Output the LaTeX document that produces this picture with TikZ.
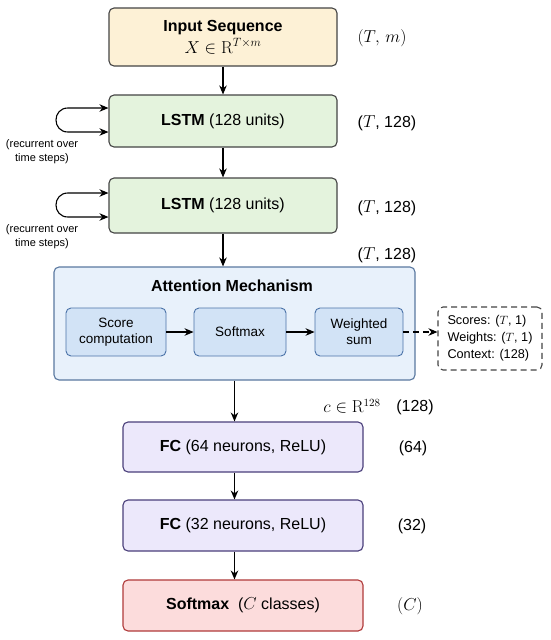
\documentclass[tikz,border=0pt]{standalone}
\usepackage[no-math]{fontspec}
\setmainfont{Liberation Sans}
\usetikzlibrary{arrows.meta}
\definecolor{inFill}{HTML}{FDF1D6}
\definecolor{lstmFill}{HTML}{E4F3DD}
\definecolor{attFill}{HTML}{E8F1FB}
\definecolor{attLine}{HTML}{5A78A0}
\definecolor{subFill}{HTML}{D2E3F6}
\definecolor{subLine}{HTML}{4A72A8}
\definecolor{fcFill}{HTML}{ECE8FB}
\definecolor{fcLine}{HTML}{4A3F7A}
\definecolor{smFill}{HTML}{FCDCDC}
\definecolor{smLine}{HTML}{B03A3A}
\definecolor{boxLine}{HTML}{444444}
\tikzset{
  box/.style={draw=boxLine, line width=1.1pt, rounded corners=5pt, align=center, inner sep=0pt, font=\fontsize{16}{19}\selectfont},
  subbox/.style={draw=subLine, fill=subFill, line width=0.9pt, rounded corners=5pt, align=center, inner sep=0pt, font=\fontsize{13.5}{16}\selectfont},
  arr/.style={-{Stealth[length=9pt,width=7.5pt]}, line width=1.1pt},
  lab/.style={font=\fontsize{16}{19}\selectfont},
  loop/.style={line width=1.1pt, {Stealth[length=9pt,width=7.5pt]}-{Stealth[length=9pt,width=7.5pt]}},
  dsh/.style={dash pattern=on 6pt off 4pt},
}
\begin{document}
\begin{tikzpicture}[x=1pt,y=-1pt]
\useasboundingbox (0,0) rectangle (550,640);
\fill[white] (0,0) rectangle (550,640);
% main boxes
\node[box, fill=inFill, minimum width=228pt, minimum height=58pt] (inp) at (223,37)
  {\textbf{Input Sequence}\\[3pt] \fontsize{17}{19}\selectfont$X \in \mathrm{R}^{T\times m}$};
\node[box, fill=lstmFill, minimum width=228pt, minimum height=52pt] (l1) at (223,121)
  {\textbf{LSTM} (128 units)};
\node[box, fill=lstmFill, minimum width=228pt, minimum height=55pt] (l2) at (223,205.5)
  {\textbf{LSTM} (128 units)};
\node[box, draw=attLine, fill=attFill, minimum width=361pt, minimum height=113pt] (att) at (234.5,323.5) {};
\node[font=\fontsize{16}{19}\selectfont\bfseries] (atttitle) at (232,286) {Attention Mechanism};
\node[subbox, minimum width=100pt, minimum height=48pt] (score) at (116,332) {Score\\computation};
\node[subbox, minimum width=92pt, minimum height=48pt] (sfx) at (240,332) {Softmax};
\node[subbox, minimum width=88pt, minimum height=48pt] (wsum) at (359,332) {Weighted\\sum};
\node[draw=boxLine, dsh, line width=1.1pt, rounded corners=5pt, minimum width=104pt, minimum height=63pt, align=left, inner sep=0pt, font=\fontsize{12.7}{17}\selectfont] (info) at (490,338.5)
  {Scores: ($T$, 1)\\Weights: ($T$, 1)\\Context: (128)};
\node[box, draw=fcLine, fill=fcFill, minimum width=240pt, minimum height=50pt] (fc1) at (243,447)
  {\textbf{FC} (64 neurons, ReLU)};
\node[box, draw=fcLine, fill=fcFill, minimum width=240pt, minimum height=51pt] (fc2) at (243,525.5)
  {\textbf{FC} (32 neurons, ReLU)};
\node[box, draw=smLine, fill=smFill, minimum width=240pt, minimum height=51pt] (out) at (243,605.5)
  {\textbf{Softmax}\ \ ($C$ classes)};
% right labels
\node[lab] (d0) at (382,38) {$(T,\, m)$};
\node[lab] (d1) at (387,123) {($T$, 128)};
\node[lab] (d2) at (387,208) {($T$, 128)};
\node[lab] (d3) at (387,255) {($T$, 128)};
\node[lab] (cvec) at (352,406) {$c \in \mathrm{R}^{128}$};
\node[lab] (d4) at (415,407) {(128)};
\node[lab] (d5) at (413,448) {(64)};
\node[lab] (d6) at (412,526) {(32)};
\node[lab] (d7) at (410,606) {$(C)$};
% recurrent labels
\node[align=center, font=\fontsize{11}{14}\selectfont] (rec1) at (42,152) {(recurrent over\\time steps)};
\node[align=center, font=\fontsize{11}{14}\selectfont] (rec2) at (42,237) {(recurrent over\\time steps)};
% arrows
\draw[arr] (inp) -- (l1);
\draw[arr] (l1) -- (l2);
\draw[arr] (l2.south) -- (l2.south |- att.north);
\draw[arr] (att.south) -- (att.south |- fc1.north);
\draw[arr] (att.south |- fc1.south) -- (att.south |- fc2.north);
\draw[arr] (att.south |- fc2.south) -- (att.south |- out.north);
\draw[arr] (score) -- (sfx);
\draw[arr] (sfx) -- (wsum);
\draw[arr, dsh] (wsum.east) -- (wsum.east -| info.west);
% loops
\draw[loop] (l1.west |- 0,108) -- (68,108) .. controls (52,108) and (52,132) .. (68,132) -- (l1.west |- 0,132);
\draw[loop] (l2.west |- 0,193) -- (68,193) .. controls (52,193) and (52,217) .. (68,217) -- (l2.west |- 0,217);
\end{tikzpicture}
\end{document}
